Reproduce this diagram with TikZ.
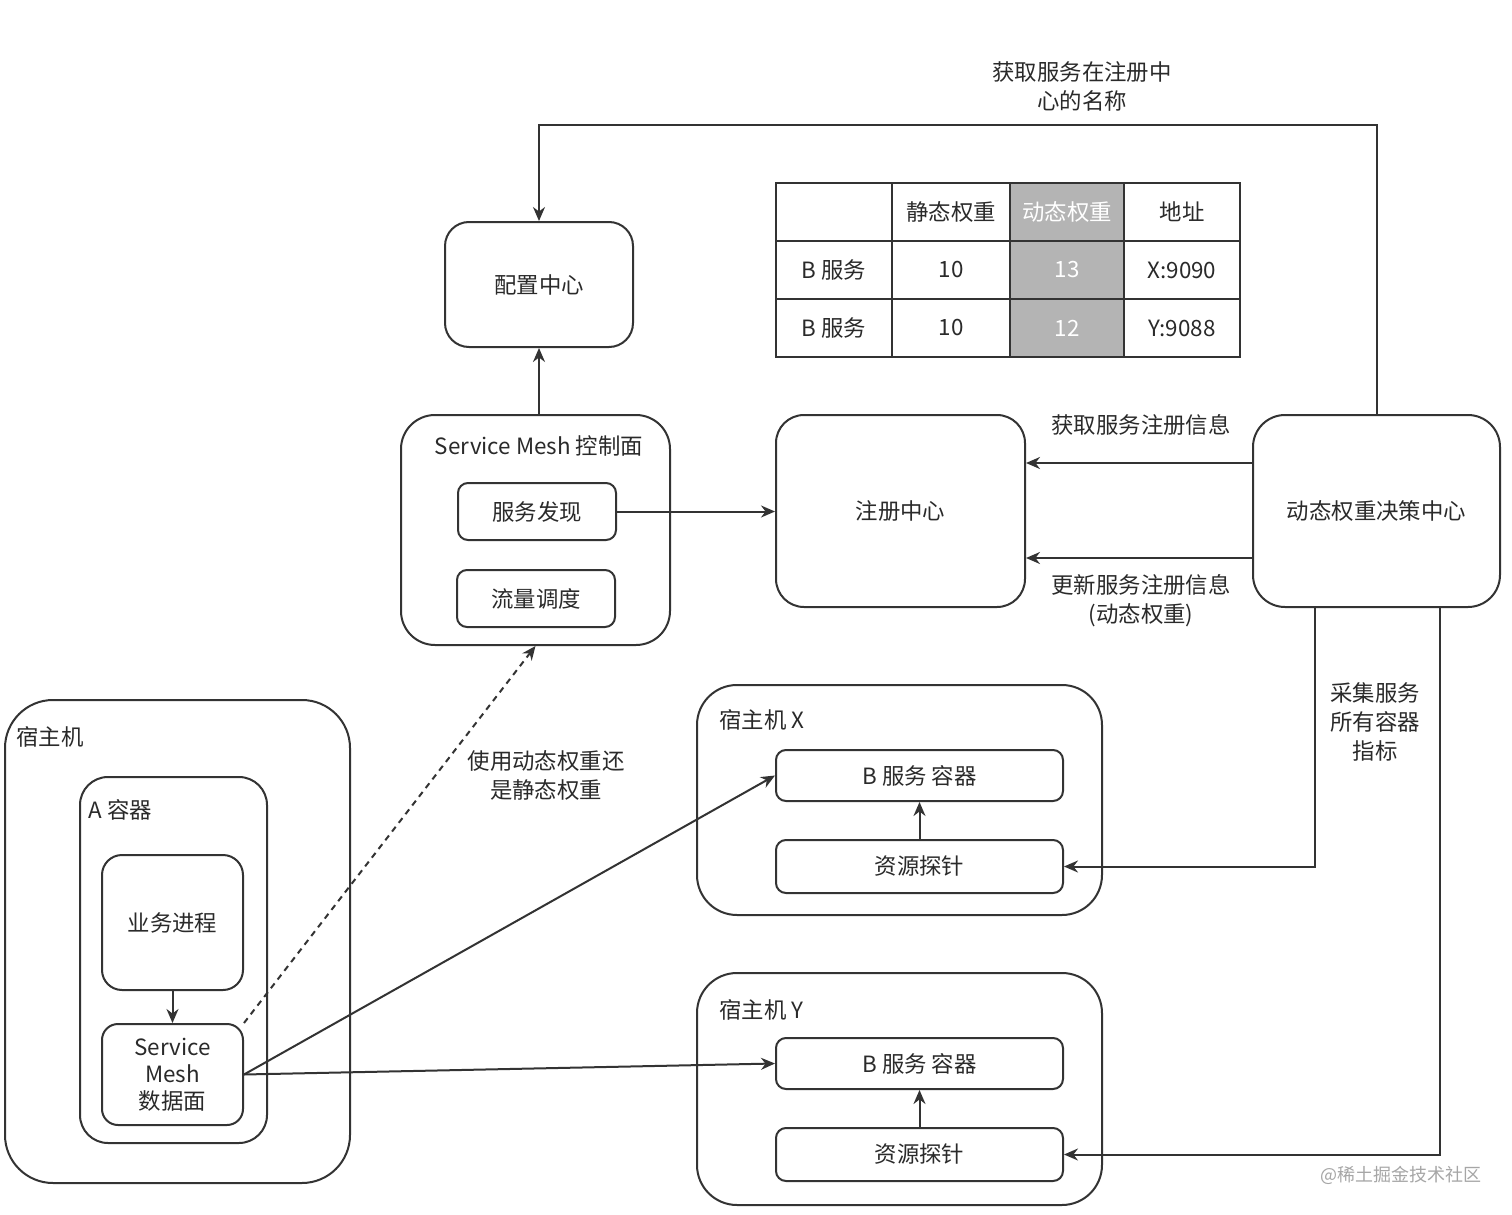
\documentclass[tikz,border=0pt]{standalone}
\usepackage{fontspec}
\setmainfont{Noto Sans CJK SC}
\usetikzlibrary{arrows.meta,calc}
\definecolor{ln}{HTML}{333333}
\definecolor{tx}{HTML}{2A2A2A}
\definecolor{gcol}{HTML}{B4B4B4}
\tikzset{
  box/.style={draw=ln, line width=1pt, rounded corners=#1, fill=none, inner sep=0pt, text=tx, align=center, font=\fontsize{11.2}{14}\selectfont},
  box/.default=5pt,
  cell/.style={draw=ln, line width=1pt, inner sep=0pt, minimum width=#1, minimum height=29pt, text=tx, font=\fontsize{11.2}{14}\selectfont},
  lbl/.style={text=tx, align=center, inner sep=1pt, font=\fontsize{11.2}{14.5}\selectfont},
  arr/.style={draw=ln, line width=1pt, -{Stealth[length=7pt,width=6pt]}},
}
\begin{document}
\begin{tikzpicture}[x=0.5pt,y=-0.5pt]
\useasboundingbox[fill=white] (0,0) rectangle (1512,1215);

% config center
\node[box=12pt, minimum width=94pt, minimum height=62.5pt] (cfg) at (539,284.5) {配置中心};

% control plane
\node[box=17pt, minimum width=134.5pt, minimum height=115pt] (cp) at (535.5,530) {};
\node[lbl] (cpl) at (539,446) {Service Mesh 控制面};
\node[box=5pt, minimum width=79pt, minimum height=28.5pt] (sd) at (537,511.5) {服务发现};
\node[box=5pt, minimum width=79pt, minimum height=28.5pt] (tf) at (536,598.5) {流量调度};

% registry & decision
\node[box=14pt, minimum width=124.5pt, minimum height=96pt] (reg) at (900.5,511) {注册中心};
\node[box=16pt, minimum width=123.5pt, minimum height=96pt] (dec) at (1376.5,511) {动态权重决策中心};

% table
\node[cell=58pt] (t11) at (834,212) {};
\node[cell=59pt] (t12) at (951,212) {静态权重};
\node[cell=57pt, fill=gcol, text=white] (t13) at (1067,212) {动态权重};
\node[cell=58pt] (t14) at (1182,212) {地址};
\node[cell=58pt] (t21) at (834,270) {B 服务};
\node[cell=59pt] (t22) at (951,270) {10};
\node[cell=57pt, fill=gcol, text=white] (t23) at (1067,270) {13};
\node[cell=58pt] (t24) at (1182,270) {X:9090};
\node[cell=58pt] (t31) at (834,328) {B 服务};
\node[cell=59pt] (t32) at (951,328) {10};
\node[cell=57pt, fill=gcol, text=white] (t33) at (1067,328) {12};
\node[cell=58pt] (t34) at (1182,328) {Y:9088};

% host X
\node[box=20pt, minimum width=202.5pt, minimum height=115pt] (hx) at (899.5,800) {};
\node[lbl, anchor=west] (hxl) at (717,720) {宿主机 X};
\node[box=5pt, minimum width=143.5pt, minimum height=25.5pt] (bx) at (919.5,775.5) {B 服务 容器};
\node[box=5pt, minimum width=143.5pt, minimum height=26.5pt] (px) at (919.5,866.5) {资源探针};

% host Y
\node[box=20pt, minimum width=202.5pt, minimum height=116pt] (hy) at (899.5,1089) {};
\node[lbl, anchor=west] (hyl) at (717,1010) {宿主机 Y};
\node[box=5pt, minimum width=143.5pt, minimum height=25.5pt] (by) at (919.5,1063.5) {B 服务 容器};
\node[box=5pt, minimum width=143.5pt, minimum height=26.5pt] (py) at (919.5,1154.5) {资源探针};

% host A
\node[box=24pt, minimum width=172.5pt, minimum height=241.5pt] (ha) at (177.5,941.5) {};
\node[lbl, anchor=west] (hal) at (14,737) {宿主机};
\node[box=14pt, minimum width=93.5pt, minimum height=183pt] (ac) at (173.5,960) {};
\node[lbl, anchor=west] (acl) at (86,810) {A 容器};
\node[box=10pt, minimum width=70.5pt, minimum height=67.5pt] (biz) at (172.5,922.5) {业务进程};
\node[box=8pt, minimum width=70.5pt, minimum height=50.5pt, font=\fontsize{11.2}{13.6}\selectfont] (dp) at (172.5,1074.5) {Service\\Mesh\\数据面};

% connectors
\coordinate (topR) at (1376.5,125);
\coordinate (topL) at (539,125);
\draw[arr] (dec.north) -- (topR) -- (topL) -- (cfg.north);
\node[lbl] (l1) at (1082,86) {获取服务在注册中\\心的名称};

\draw[arr] (cfg.south |- cp.north) -- (cfg.south);
\draw[arr] (sd.east) -- (reg.west |- sd.east);

\draw[arr] ([yshift=24pt]dec.west) -- ([yshift=24pt]reg.east);
\node[lbl] (l2) at (1141,425) {获取服务注册信息};
\draw[arr] ([yshift=-23.5pt]dec.west) -- ([yshift=-23.5pt]reg.east);
\node[lbl] (l3) at (1141,601) {更新服务注册信息\\(动态权重)};

\draw[arr] ([xshift=-30.75pt]dec.south) |- (px.east);
\draw[arr] ([xshift=31.75pt]dec.south) |- (py.east);
\node[lbl] (l4) at (1375,722) {采集服务\\所有容器\\指标};

\draw[arr] (px.north) -- (bx.south);
\draw[arr] (py.north) -- (by.south);
\draw[arr] (biz.south) -- (dp.north);

\draw[draw=ln, line width=1pt, dash pattern=on 3pt off 2.5pt, -{Stealth[length=7pt,width=6pt]}] (dp.north east) -- (cp.south);
\node[lbl] (l5) at (546,775) {使用动态权重还\\是静态权重};

\draw[arr] (dp.east) -- (bx.west);
\draw[arr] (dp.east) -- (by.west);

\node[text=gray!70, inner sep=0pt, font=\fontsize{9}{11}\selectfont] (wm) at (1401,1175) {@稀土掘金技术社区};
\end{tikzpicture}
\end{document}
